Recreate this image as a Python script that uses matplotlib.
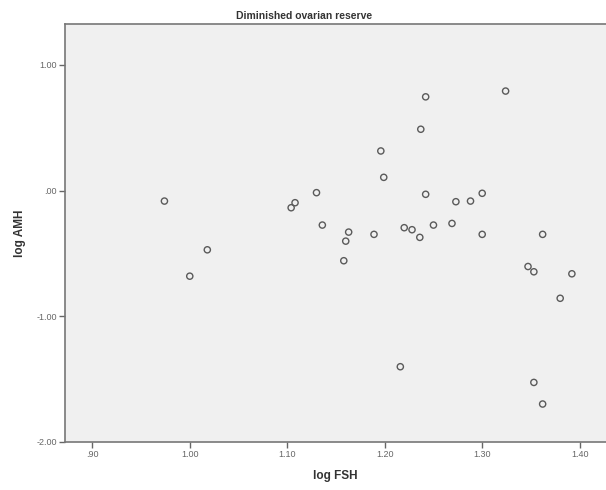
import matplotlib
matplotlib.use('Agg')
import matplotlib.pyplot as plt

# values
log_fsh = [0.974, 1.018, 1.000, 1.104, 1.108, 1.130, 1.136, 1.163, 1.160, 1.158,
           1.189, 1.242, 1.324, 1.237, 1.196, 1.199, 1.242, 1.273, 1.288, 1.300,
           1.220, 1.228, 1.236, 1.250, 1.269, 1.300, 1.362, 1.347, 1.353, 1.392,
           1.380, 1.216, 1.353, 1.362]
log_amh = [-0.084, -0.472, -0.682, -0.137, -0.097, -0.017, -0.275, -0.331, -0.403, -0.559,
           -0.349, 0.746, 0.792, 0.488, 0.315, 0.105, -0.030, -0.089, -0.084, -0.022,
           -0.296, -0.312, -0.373, -0.275, -0.262, -0.349, -0.349, -0.605, -0.647, -0.663,
           -0.858, -1.403, -1.528, -1.700]

x_ticks = [0.90, 1.00, 1.10, 1.20, 1.30, 1.40]
x_tick_labels = ['.90', '1.00', '1.10', '1.20', '1.30', '1.40']
y_ticks = [1.0, 0.0, -1.0, -2.0]
y_tick_labels = ['1.00', '.00', '-1.00', '-2.00']

plt.rcParams['font.family'] = ['Liberation Sans', 'DejaVu Sans']

fig = plt.figure(figsize=(6.06, 4.90), dpi=100)
ax = fig.add_axes([65 / 606, 1 - 441.7 / 490, 1 - 65 / 606, (441.7 - 24) / 490])
ax.set_facecolor('#f0f0f0')

ax.scatter(log_fsh, log_amh, s=20, facecolors='none', edgecolors='#5a5a5a', linewidths=1.0)

ax.set_xlim(0.872, 1.427)
ax.set_ylim(-2.0, 1.326)

ax.set_xticks(x_ticks)
ax.set_xticklabels(x_tick_labels)
ax.set_yticks(y_ticks)
ax.set_yticklabels(y_tick_labels)
ax.tick_params(axis='both', direction='out', length=4, width=1, color='#666666',
               labelsize=6.5, labelcolor='#666666', pad=2)

for side in ['left', 'bottom', 'top']:
    ax.spines[side].set_color('#777777')
    ax.spines[side].set_linewidth(1.2)
ax.spines['right'].set_visible(False)

ax.set_xlabel('log FSH', fontsize=8.5, fontweight='bold', color='#333333', labelpad=8)
ax.set_ylabel('log AMH', fontsize=8.5, fontweight='bold', color='#333333', labelpad=7)
fig.text(304 / 606, 1 - 16 / 490, 'Diminished ovarian reserve', ha='center', va='center',
         fontsize=7.5, fontweight='bold', color='#333333')

fig.savefig('out.png', dpi=100, facecolor='white')
